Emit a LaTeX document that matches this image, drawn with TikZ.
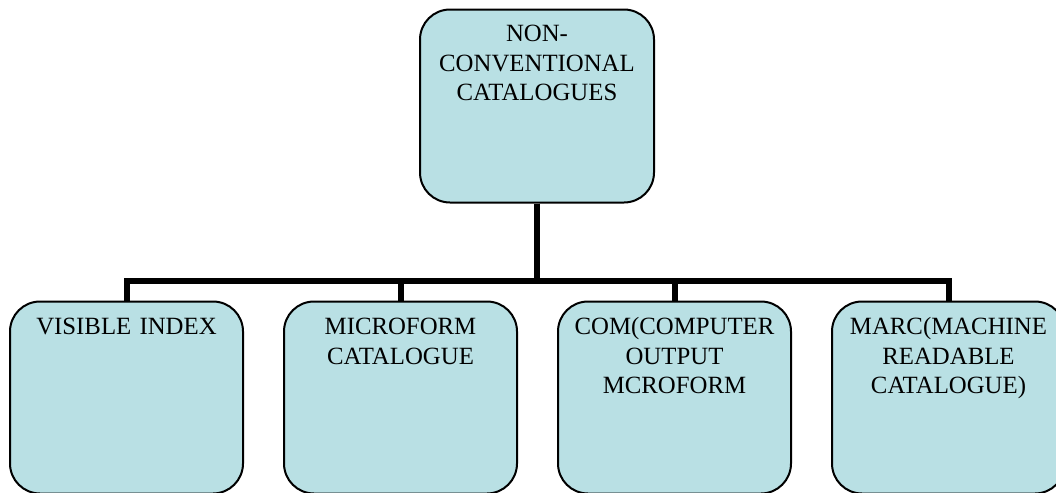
\documentclass[tikz,border=0pt]{standalone}
\usepackage{fontspec}
\setmainfont{Liberation Serif}
\usepackage{tikz}
\usetikzlibrary{arrows,shapes,positioning,calc}
\definecolor{catfill}{RGB}{185,224,228}

\begin{document}
\begin{tikzpicture}[semithick, node distance=19.5pt]
\tikzstyle{every node}=[font=\fontsize{12.4}{14.75}\selectfont]
\tikzstyle{catbox}=[rectangle, rounded corners=15pt, fill=catfill, draw=black,
line width=1pt, inner sep=0pt, align=center]
\tikzstyle{topbox}=[catbox, text width=117pt, text height=16pt, text depth=80.5pt]
\tikzstyle{subbox}=[catbox, text width=116.5pt, text height=16.5pt, text depth=79.5pt]
\tikzstyle{conn}=[line width=3pt, draw=black]

\useasboundingbox (0,0) rectangle (528pt,-246.5pt);

\node[topbox] (NCC) at (268.5pt,-53pt) {NON-\\CONVENTIONAL\\CATALOGUES};

\node[subbox]
(VisIdx) at (63.25pt,-198.75pt) {VISIBLE INDEX};

\node[subbox]
(MicCat) [right=of VisIdx] {MICROFORM\\CATALOGUE};

\node[subbox]
(ComOut) [right=of MicCat] {COM(COMPUTER\\OUTPUT\\MCROFORM};

\node[subbox]
(MarcCat) [right=of ComOut] {MARC(MACHINE\\READABLE\\CATALOGUE)};

\path (NCC.south) ++(0,-38.5pt) coordinate (split);

\foreach \sub in {VisIdx,MicCat,ComOut,MarcCat}
\draw[conn] (NCC.south) -- (split) -| (\sub.north);

\end{tikzpicture}
\end{document}
